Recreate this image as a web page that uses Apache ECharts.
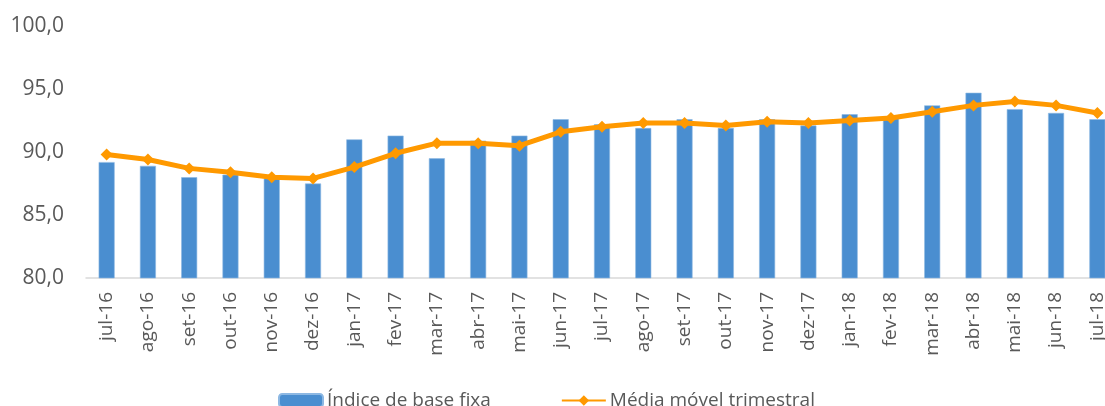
<!DOCTYPE html>
<html>
<head>
<meta charset="utf-8">
<script src="https://cdn.jsdelivr.net/npm/echarts@6/dist/echarts.min.js"></script>
<style>
    html, body {margin: 0; padding: 0; background: #fff;}
    #chart {width: 1105px; height: 406px;}
</style>
</head>
<body>
<div id="chart"></div>
<script>
const months = ['jul-16', 'ago-16', 'set-16', 'out-16', 'nov-16', 'dez-16', 'jan-17', 'fev-17', 'mar-17',
    'abr-17', 'mai-17', 'jun-17', 'jul-17', 'ago-17', 'set-17', 'out-17', 'nov-17', 'dez-17', 'jan-18',
    'fev-18', 'mar-18', 'abr-18', 'mai-18', 'jun-18', 'jul-18'];
const indiceBase = [89.2, 88.9, 88.0, 88.2, 87.9, 87.5, 91.0, 91.3, 89.5, 90.9, 91.3, 92.6, 92.2,
    91.9, 92.6, 91.9, 92.6, 92.1, 93.0, 92.8, 93.7, 94.7, 93.4, 93.1, 92.6];
const mediaMovel = [89.8, 89.4, 88.7, 88.4, 88.0, 87.9, 88.8, 89.9, 90.7, 90.7, 90.5, 91.6, 92.0,
    92.3, 92.3, 92.1, 92.4, 92.3, 92.5, 92.7, 93.2, 93.7, 94.0, 93.7, 93.1];
const seriesNames = ['Índice de base fixa', 'Média móvel trimestral'];

const font = 'Open Sans';
const textColor = '#595959';

function drawChart() {
    const chartDom = document.getElementById('chart');
    const myChart = echarts.init(chartDom);

    const option = {
        animation: false,
        textStyle: {fontFamily: font},
        grid: {
            left: 86,
            top: 26,
            width: 1032,
            height: 252,
            outerBoundsMode: 'none'
        },
        legend: {
            top: 386,
            left: 273,
            itemWidth: 44,
            itemHeight: 13,
            itemGap: 70,
            textStyle: {fontFamily: font, fontSize: 19, color: textColor, padding: [0, 0, 0, -1]},
            data: seriesNames
        },
        xAxis: {
            type: 'category',
            data: months,
            axisTick: {show: false},
            axisLine: {lineStyle: {color: '#d9d9d9', width: 1.5}},
            axisLabel: {
                rotate: 90,
                interval: 0,
                margin: 14,
                fontFamily: font,
                fontSize: 19,
                color: textColor
            }
        },
        yAxis: {
            type: 'value',
            min: 80,
            max: 100,
            interval: 5,
            splitLine: {show: false},
            axisLine: {show: false},
            axisTick: {show: false},
            axisLabel: {
                margin: 22,
                fontFamily: font,
                fontSize: 21,
                color: textColor,
                formatter: (v) => v.toFixed(1).replace('.', ',')
            }
        },
        series: [
            {
                name: seriesNames[0],
                type: 'bar',
                data: indiceBase,
                barWidth: 16,
                itemStyle: {color: '#4a8ed0', borderColor: '#8db8e3', borderWidth: 0.6}
            },
            {
                name: seriesNames[1],
                type: 'line',
                data: mediaMovel,
                symbol: 'diamond',
                symbolSize: 12,
                lineStyle: {color: '#ff9900', width: 5},
                itemStyle: {color: '#ff9900'}
            }
        ]
    };

    option && myChart.setOption(option);
}

drawChart();
</script>
</body>
</html>
